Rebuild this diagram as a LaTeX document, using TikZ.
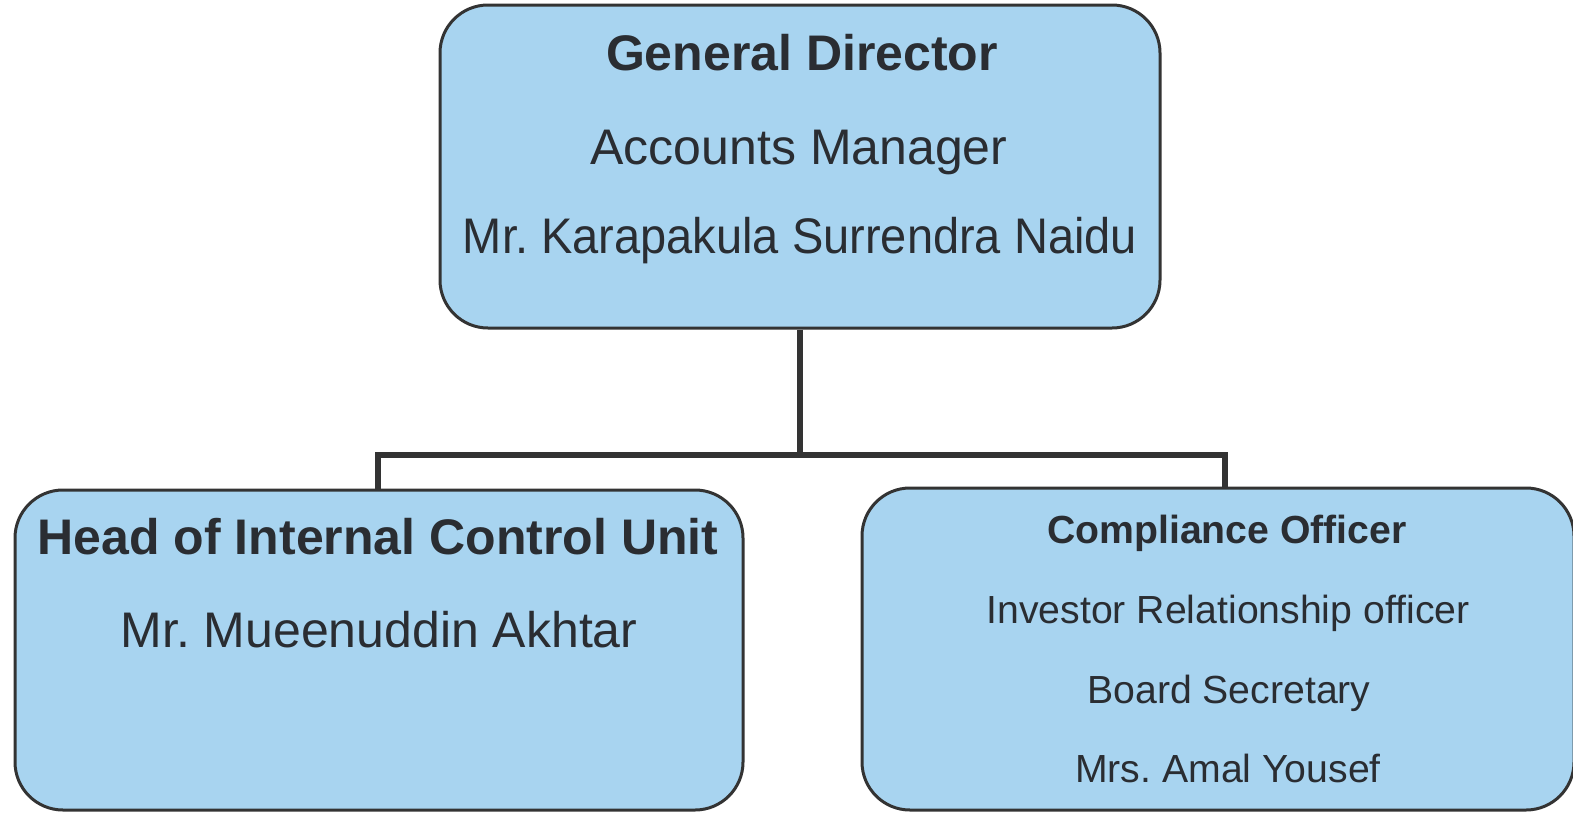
\documentclass[tikz,border=0pt]{standalone}
\usepackage{fontspec}
\setmainfont{Liberation Sans}
\usepackage{graphicx}
\frenchspacing
\definecolor{boxfill}{HTML}{A8D4F0}
\definecolor{boxline}{HTML}{333333}
\definecolor{txt}{HTML}{2A2D32}
\tikzset{
  orgbox/.style={draw=boxline, line width=1.5pt, fill=boxfill, rounded corners=24pt, inner sep=0pt},
  conn/.style={draw=boxline, line width=2.6pt, line join=miter},
  bigbold/.style={anchor=base, inner sep=0pt, text=txt, font=\fontsize{25}{30}\selectfont\bfseries},
  bigreg/.style={anchor=base, inner sep=0pt, text=txt, font=\fontsize{25}{30}\selectfont},
  smallbold/.style={anchor=base, inner sep=0pt, text=txt, font=\fontsize{19.6}{24}\selectfont\bfseries},
  smallreg/.style={anchor=base, inner sep=0pt, text=txt, font=\fontsize{19.6}{24}\selectfont},
}
\begin{document}
\begin{tikzpicture}[x=0.5pt, y=-0.5pt]
\useasboundingbox[fill=white] (0,0) rectangle (1573,814);
% boxes
\node[orgbox, minimum width=360pt, minimum height=161.5pt] (top) at (800,166.5) {};
\node[orgbox, minimum width=364pt, minimum height=160pt] (left) at (379,650) {};
\node[orgbox, minimum width=356pt, minimum height=161pt] (right) at (1218,649) {};
% connectors
\coordinate (j) at (800,455);
\coordinate (jl) at (378,455);
\coordinate (jr) at (1225,455);
\draw[conn] (top.south) -- (j);
\draw[conn] (jl |- left.north) -- (jl) -- (jr) -- (jr |- right.north);
% texts top
\node[bigbold] (t1) at (802,70) {General Director};
\node[bigreg] (t2) at (799,164) {Accounts Manager};
\node[bigreg] (t3) at (800,253) {\scalebox{0.94}[1]{Mr. Karapakula Surrendra Naidu}};
% texts left
\node[bigbold] (l1) at (378,554) {Head of Internal Control Unit};
\node[bigreg] (l2) at (379,647) {Mr. Mueenuddin Akhtar};
% texts right
\node[smallbold] (r1) at (1227,543) {Compliance Officer};
\node[smallreg] (r2) at (1228,623) {Investor Relationship officer};
\node[smallreg] (r3) at (1229,703) {Board Secretary};
\node[smallreg] (r4) at (1228,782) {Mrs. Amal Yousef};
\end{tikzpicture}
\end{document}
